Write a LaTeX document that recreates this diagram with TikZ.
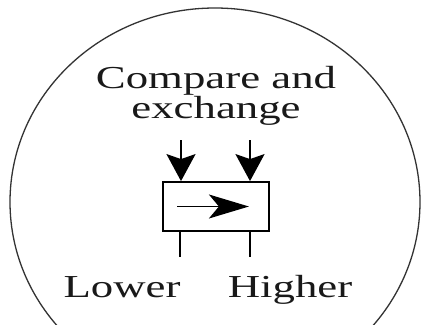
\documentclass[tikz,border=0pt]{standalone}
\usepackage{fontspec}
\setmainfont{Liberation Serif}
\usetikzlibrary{arrows.meta}
\newcommand{\widetext}[1]{\scalebox{1.4}[1]{#1}}
\begin{document}
\begin{tikzpicture}[x=1pt,y=-1pt,
  lbl/.style={inner sep=0pt, text=black!90, font=\fontsize{32}{30}\selectfont},
  bigarrow/.style={line width=2pt, -{Stealth[length=27pt,width=29pt,inset=5pt]}},
  innerarrow/.style={line width=1.5pt, -{Stealth[length=40pt,width=24pt,inset=10pt]}},
  leg/.style={line width=2pt},
  box/.style={draw, line width=1.8pt, minimum width=106pt, minimum height=49pt, inner sep=0pt}]
\useasboundingbox (0,0) rectangle (423,324);
\fill[white] (0,0) rectangle (423,324);
\draw[line width=1.3pt, black!80] (215,202) ellipse [x radius=205, y radius=194];
\node[lbl, align=center, anchor=base] (title) at (216,118) {\widetext{Compare and}\\\widetext{exchange}};
\node[box] (cx) at (216,206.5) {};
\coordinate (in1) at (181,140);
\coordinate (in2) at (250,140);
\draw[bigarrow] (in1) -- (in1 |- cx.north);
\draw[bigarrow] (in2) -- (in2 |- cx.north);
\draw[innerarrow] ([xshift=15pt]cx.west) -- ([xshift=-21pt]cx.east);
\coordinate (out1) at (180,257);
\coordinate (out2) at (250,257);
\draw[leg] (out1 |- cx.south) -- (out1);
\draw[leg] (out2 |- cx.south) -- (out2);
\node[lbl, anchor=base] (lower) at (122,297) {\widetext{Lower}};
\node[lbl, anchor=base] (higher) at (290,297) {\widetext{Higher}};
\end{tikzpicture}
\end{document}
